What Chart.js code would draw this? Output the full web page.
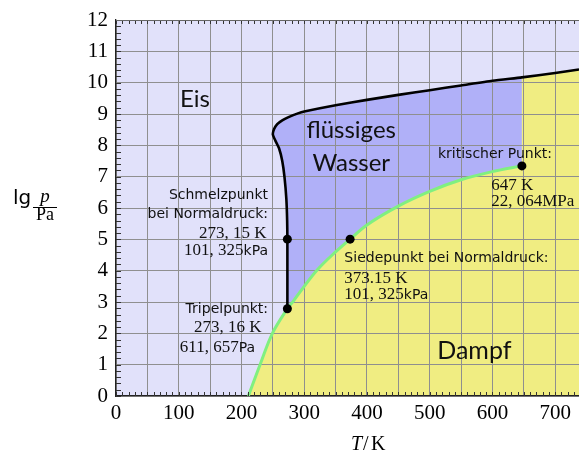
<!DOCTYPE html>
<html>
<head>
<meta charset="utf-8">
<script src="https://cdn.jsdelivr.net/npm/chart.js@4.4.0/dist/chart.umd.min.js"></script>
<style>
  html, body { margin: 0; padding: 0; background: #fff; }
</style>
</head>
<body>
<canvas id="phasendiagramm" width="579" height="463"></canvas>
<script>
// Achsenbereich
const xMin = 0, xMax = 738;
const yMin = 0, yMax = 12;
const xGridTicks = [0, 50, 100, 150, 200, 250, 300, 350, 400, 450, 500, 550, 600, 650, 700];
const yTicks = [0, 1, 2, 3, 4, 5, 6, 7, 8, 9, 10, 11, 12];

// Sublimationskurve (Eis/Dampf)
const sublimT = [211, 229.6, 249.3, 273.16];
const sublimLgP = [0, 1, 2, 2.786];

// Dampfdruckkurve (Wasser/Dampf) bis zum kritischen Punkt
const vaporT = [273.16, 282.8, 300, 321, 350, 373.15, 400, 450, 500, 550, 600, 647];
const vaporLgP = [2.786, 3.03, 3.5, 4.03, 4.6, 5.006, 5.46, 6.06, 6.53, 6.9, 7.16, 7.344];

// Schmelzkurve (Eis/Wasser), ab Tripelpunkt
const meltT = [273.16, 273.16, 272.8, 271.5, 268.5, 265, 260, 254, 250, 252, 257, 265, 275, 290, 300, 350, 400, 450, 500, 550, 600, 647, 700, 738];
const meltLgP = [2.786, 5.006, 5.6, 6.3, 7.0, 7.5, 7.9, 8.15, 8.35, 8.52, 8.68, 8.8, 8.9, 9.02, 9.08, 9.28, 9.45, 9.61, 9.76, 9.91, 10.06, 10.17, 10.31, 10.42];

// markierte Punkte: Tripelpunkt, Schmelzpunkt, Siedepunkt, kritischer Punkt
const markT = [273.16, 273.15, 373.15, 647];
const markLgP = [2.786, 5.006, 5.006, 7.344];

const critT = 647;

const pts = (xs, ys) => xs.map((x, i) => ({x: x, y: ys[i]}));

const sublimPts = pts(sublimT, sublimLgP);
const vaporPts = pts(vaporT, vaporLgP);
const meltPts = pts(meltT, meltLgP);
const greenPts = sublimPts.concat(vaporPts.slice(1));

// Index des linken Knicks und des Punktes bei T_krit auf dem oberen Ast
let leftIdx = 0;
meltPts.forEach((p, i) => { if (p.x < meltPts[leftIdx].x) leftIdx = i; });
let critIdx = meltPts.findIndex((p, i) => i > leftIdx && p.x === critT);

// Flächen
const icePoly = [
  {x: xMin, y: yMin}, {x: xMin, y: yMax}, {x: xMax, y: yMax}, {x: xMax, y: yMin}
];
const liquidPoly = [{x: meltPts[leftIdx].x, y: yMin}]
  .concat(meltPts.slice(0, critIdx + 1))
  .concat([{x: critT, y: yMin}]);
const vaporPoly = greenPts
  .concat(meltPts.slice(critIdx))
  .concat([{x: xMax, y: yMin}]);

const SERIF = '17px "Liberation Serif"';
const SANS = '14px "DejaVu Sans"';
const BIG = '24px Lato';

const notes = [
  {x: 102, y: 9.22, align: 'left', runs: [['Eis', BIG]]},
  {x: 375, y: 8.22, align: 'center', runs: [['flüssiges', BIG]]},
  {x: 375, y: 7.19, align: 'center', runs: [['Wasser', BIG]]},
  {x: 512, y: 1.17, align: 'left', runs: [['Dampf', '25px Lato']]},
  {x: 695, y: 7.59, align: 'right', runs: [['kritischer Punkt:', SANS]]},
  {x: 598, y: 6.57, align: 'left', runs: [['647 K', SERIF]]},
  {x: 598, y: 6.06, align: 'left', runs: [['22, 064MPa', SERIF]]},
  {x: 242.4, y: 6.29, align: 'right', runs: [['Schmelzpunkt', SANS]]},
  {x: 242.4, y: 5.67, align: 'right', runs: [['bei Normaldruck:', SANS]]},
  {x: 240, y: 5.03, align: 'right', runs: [['273, 15 K', SERIF]]},
  {x: 242.4, y: 4.49, align: 'right', runs: [['101, 325', SERIF], ['kPa', SANS]]},
  {x: 242.4, y: 2.64, align: 'right', runs: [['Tripelpunkt:', SANS]]},
  {x: 232, y: 2.05, align: 'right', runs: [['273, 16 K', SERIF]]},
  {x: 221.7, y: 1.41, align: 'right', runs: [['611, 657', SERIF], ['Pa', SANS]]},
  {x: 364, y: 4.29, align: 'left', runs: [['Siedepunkt bei Normaldruck:', SANS]]},
  {x: 364, y: 3.6, align: 'left', runs: [['373.15 K', SERIF]]},
  {x: 364, y: 3.09, align: 'left', runs: [['101, 325', SERIF], ['kPa', SANS]]}
];

const decor = {
  id: 'decor',
  afterDraw(chart) {
    const ctx = chart.ctx;
    const xs = chart.scales.x, ys = chart.scales.y;
    const a = chart.chartArea;
    ctx.save();

    // kleine Striche an den Achsen
    ctx.strokeStyle = '#333';
    ctx.lineWidth = 1;
    ctx.beginPath();
    for (let v = xMin; v <= xMax; v += 10) {
      const px = Math.round(xs.getPixelForValue(v)) + 0.5;
      ctx.moveTo(px, a.bottom); ctx.lineTo(px, a.bottom - 4);
      ctx.moveTo(px, a.top); ctx.lineTo(px, a.top + 4);
    }
    for (let k = 0; k <= 60; k++) {
      const py = Math.round(ys.getPixelForValue(k * 0.2)) + 0.5;
      ctx.moveTo(a.left, py); ctx.lineTo(a.left + 5, py);
    }
    ctx.stroke();
    ctx.beginPath();
    ctx.strokeStyle = '#666';
    ctx.moveTo(a.left, a.top + 0.5); ctx.lineTo(a.right, a.top + 0.5);
    ctx.stroke();

    // Beschriftungen im Diagramm
    ctx.fillStyle = '#111';
    ctx.textBaseline = 'alphabetic';
    ctx.textAlign = 'left';
    notes.forEach(n => {
      let w = 0;
      n.runs.forEach(r => { ctx.font = r[1]; w += ctx.measureText(r[0]).width; });
      let px = xs.getPixelForValue(n.x);
      if (n.align === 'right') px -= w;
      if (n.align === 'center') px -= w / 2;
      const py = ys.getPixelForValue(n.y);
      n.runs.forEach(r => {
        ctx.font = r[1];
        ctx.fillText(r[0], px, py);
        px += ctx.measureText(r[0]).width;
      });
    });

    // Achsentitel
    ctx.fillStyle = '#000';
    ctx.font = '20px "DejaVu Sans"';
    ctx.fillText('lg', 13, 204);
    ctx.textAlign = 'center';
    ctx.font = 'italic 19px "Liberation Serif"';
    ctx.fillText('p', 45, 202);
    ctx.font = '18px "Liberation Serif"';
    ctx.fillText('Pa', 45, 220);
    ctx.fillRect(33, 207, 24, 1);

    ctx.textAlign = 'left';
    ctx.font = 'italic 20px "Liberation Serif"';
    ctx.fillText('T', 351, 450);
    ctx.font = '20px "Liberation Serif"';
    ctx.fillText('/', 363, 450);
    ctx.fillText('K', 371, 450);
    ctx.restore();
  }
};

const region = (data, color) => ({
  data: data,
  fill: 'shape',
  backgroundColor: color,
  borderWidth: 0,
  pointRadius: 0,
  tension: 0
});

const noPad = s => { s.paddingLeft = 0; s.paddingRight = 0; s.paddingTop = 0; s.paddingBottom = 0; };

new Chart(document.getElementById('phasendiagramm'), {
  type: 'line',
  data: {
    datasets: [
      {
        data: pts(markT, markLgP),
        showLine: false,
        pointRadius: 4.5,
        pointBackgroundColor: '#000',
        pointBorderWidth: 0
      },
      {
        data: meltPts,
        borderColor: '#000',
        borderWidth: 2.6,
        pointRadius: 0,
        fill: false,
        tension: 0.2
      },
      {
        data: greenPts,
        borderColor: '#80f080',
        borderWidth: 3,
        pointRadius: 0,
        fill: false,
        tension: 0.35
      },
      // Füllflächen: die letzte wird zuerst gemalt
      region(vaporPoly, '#f0ed82'),
      region(liquidPoly, '#b0b0f8'),
      region(icePoly, '#e1e1fa')
    ]
  },
  plugins: [decor],
  options: {
    responsive: false,
    animation: false,
    layout: { autoPadding: false, padding: { top: 20, right: 0, bottom: 0, left: 0 } },
    plugins: {
      legend: { display: false },
      tooltip: { enabled: false },
      filler: { drawTime: 'beforeDraw' }
    },
    scales: {
      x: {
        type: 'linear',
        min: xMin,
        max: xMax,
        afterBuildTicks: s => { s.ticks = xGridTicks.map(v => ({value: v})); },
        afterFit: s => { s.height = 67; noPad(s); },
        ticks: {
          autoSkip: false,
          maxRotation: 0,
          padding: 5,
          color: '#000',
          font: { family: 'Liberation Serif', size: 21 },
          callback: v => (v % 100 === 0 ? v : '')
        },
        grid: { color: '#8f8f8f', lineWidth: 1, drawTicks: false },
        border: { color: '#222', width: 1.3 }
      },
      y: {
        type: 'linear',
        min: yMin,
        max: yMax,
        afterBuildTicks: s => { s.ticks = yTicks.map(v => ({value: v})); },
        afterFit: s => { s.width = 116; noPad(s); },
        ticks: {
          autoSkip: false,
          padding: 8,
          color: '#000',
          font: { family: 'Liberation Serif', size: 21 }
        },
        grid: { color: '#8f8f8f', lineWidth: 1, drawTicks: false },
        border: { color: '#222', width: 1.3 }
      }
    }
  }
});
</script>
</body>
</html>
